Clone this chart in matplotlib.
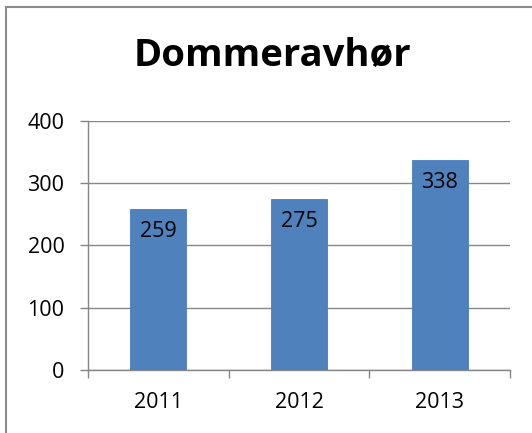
import matplotlib.pyplot as plt
from matplotlib.lines import Line2D

years = ["2011", "2012", "2013"]
values = [259, 275, 338]
y_ticks = [0, 100, 200, 300, 400]

plt.rcParams["font.family"] = ["Open Sans", "DejaVu Sans"]

fig = plt.figure(figsize=(5.32, 4.33), dpi=100)
ax = fig.add_axes([0.1654, 0.1455, 0.7932, 0.5751])

x = range(len(years))
bars = ax.bar(x, values, width=0.4, color="#4F81BD", edgecolor="#4A7EBB", linewidth=0.6, zorder=3)

for bar, v in zip(bars, values):
    ax.annotate(
        str(v),
        (bar.get_x() + bar.get_width() / 2, v),
        xytext=(0, -9),
        textcoords="offset points",
        ha="center",
        va="top",
        fontsize=15.5,
        zorder=4,
    )

ax.set_xlim(-0.5, len(years) - 0.5)
ax.set_ylim(0, 400)
ax.set_yticks(y_ticks)
ax.set_xticks([i - 0.5 for i in range(len(years) + 1)], minor=False)
ax.set_xticklabels([""] * (len(years) + 1))
ax.set_xticks(list(x), minor=True)
ax.set_xticklabels(years, minor=True)

ax.grid(axis="y", color="#868686", linewidth=1, zorder=0)
for side in ["top", "right"]:
    ax.spines[side].set_visible(False)
for side in ["left", "bottom"]:
    ax.spines[side].set_color("#868686")
    ax.spines[side].set_linewidth(1)

ax.tick_params(axis="y", length=6, width=1, color="#868686", pad=11, labelsize=15.5)
ax.tick_params(axis="x", which="major", length=6, width=1, color="#868686")
ax.tick_params(axis="x", which="minor", length=0, pad=16, labelsize=15.5)

fig.text(272 / 532, 1 - 56 / 433, "Dommeravhør", ha="center", va="center",
         fontsize=27.5, fontweight="bold")

# chart border (top and left visible)
fig.add_artist(Line2D([6 / 532, 6 / 532], [0, 1 - 7 / 433], transform=fig.transFigure,
                      color="#8C8C8C", linewidth=1.5))
fig.add_artist(Line2D([6 / 532, 1], [1 - 7 / 433, 1 - 7 / 433], transform=fig.transFigure,
                      color="#8C8C8C", linewidth=1.5))

fig.savefig("out.png", dpi=100)
